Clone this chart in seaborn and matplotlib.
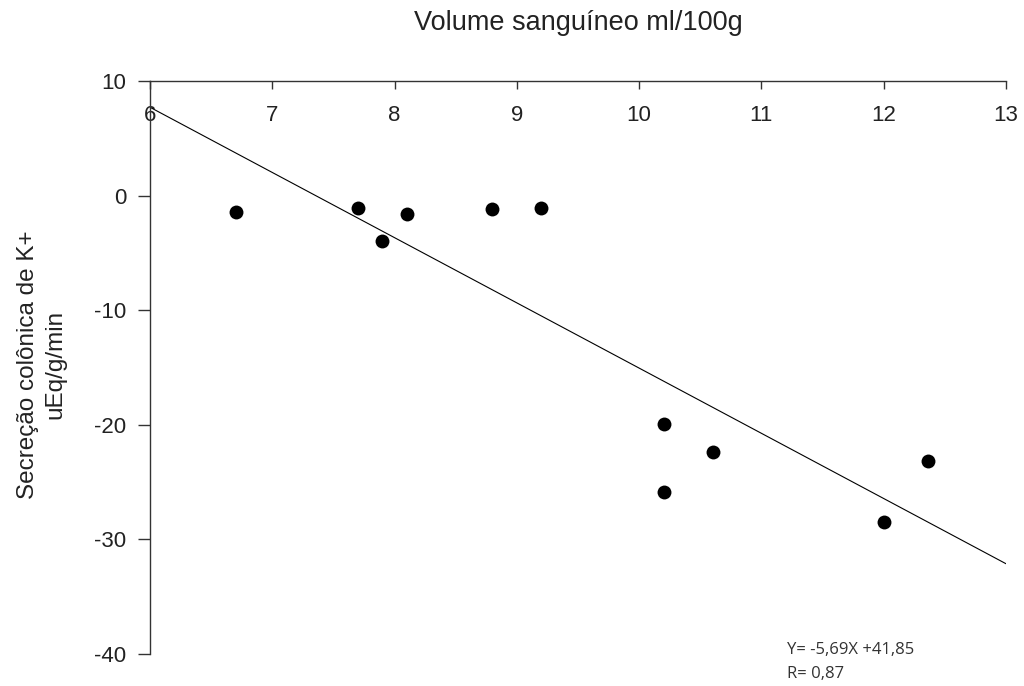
import numpy as np
import pandas as pd
import seaborn as sns
import matplotlib.pyplot as plt

# volume sanguineo (ml/100g) vs secrecao colonica de K+ (uEq/g/min)
volume = [6.7, 7.7, 7.9, 8.1, 8.8, 9.2, 10.2, 10.2, 10.6, 12.0, 12.36]
secrecao = [-1.4, -1.05, -4.0, -1.6, -1.2, -1.05, -19.9, -25.9, -22.4, -28.5, -23.2]

# reta de regressao informada no grafico
slope = -5.69
intercept = 41.85
x_range = [6, 13]

xticks = [6, 7, 8, 9, 10, 11, 12, 13]
yticks = [10, 0, -10, -20, -30, -40]

dataset = pd.DataFrame({'volume': volume, 'secrecao': secrecao})
fit = pd.DataFrame({'volume': x_range})
fit['secrecao'] = slope * fit['volume'] + intercept

sns.set_style("white")
plt.rcParams['font.family'] = ['Liberation Sans', 'DejaVu Sans']
plt.rcParams['axes.unicode_minus'] = False

fig = plt.figure(figsize=(10.24, 6.86), dpi=100)
ax = fig.add_axes([0.1465, 0.0466, 0.8359, 0.8353])

sns.lineplot(x='volume', y='secrecao', data=fit, color='black', linewidth=0.8, ax=ax)
sns.scatterplot(x='volume', y='secrecao', data=dataset, color='black', s=100,
                edgecolor='black', linewidth=0, ax=ax, zorder=3)

ax.set_xlim(6, 13)
ax.set_ylim(-40, 10)
ax.set_xticks(xticks)
ax.set_yticks(yticks)

# eixo x no topo, com rotulos abaixo da linha
ax.spines['bottom'].set_position(('data', 10))
ax.spines['top'].set_visible(False)
ax.spines['right'].set_visible(False)
for side in ['left', 'bottom']:
    ax.spines[side].set_color('#333333')
    ax.spines[side].set_linewidth(1.0)
ax.tick_params(axis='x', bottom=True, direction='out', length=6, width=1, color='#333333',
               labelsize=16, pad=11, labelcolor='#222222')
ax.tick_params(axis='y', left=True, direction='out', length=9, width=1, color='#333333',
               labelsize=16, pad=8, labelcolor='#222222')
ax.set_xlabel('')
ax.set_ylabel('')

fig.text(0.5645, 0.966, 'Volume sanguíneo ml/100g', ha='center', va='center',
         fontsize=19.5, color='#222222')
fig.text(0.041, 0.469, 'Secreção colônica de K+\nuEq/g/min', ha='center', va='center',
         rotation=90, multialignment='center', fontsize=17.5, color='#222222',
         linespacing=1.3)
fig.text(0.769, 0.035, 'Y= -5,69X +41,85\nR= 0,87', ha='left', va='center',
         fontsize=12, color='#333333', family=['Open Sans', 'DejaVu Sans'],
         linespacing=1.7)

plt.savefig('out.png', dpi=100)
